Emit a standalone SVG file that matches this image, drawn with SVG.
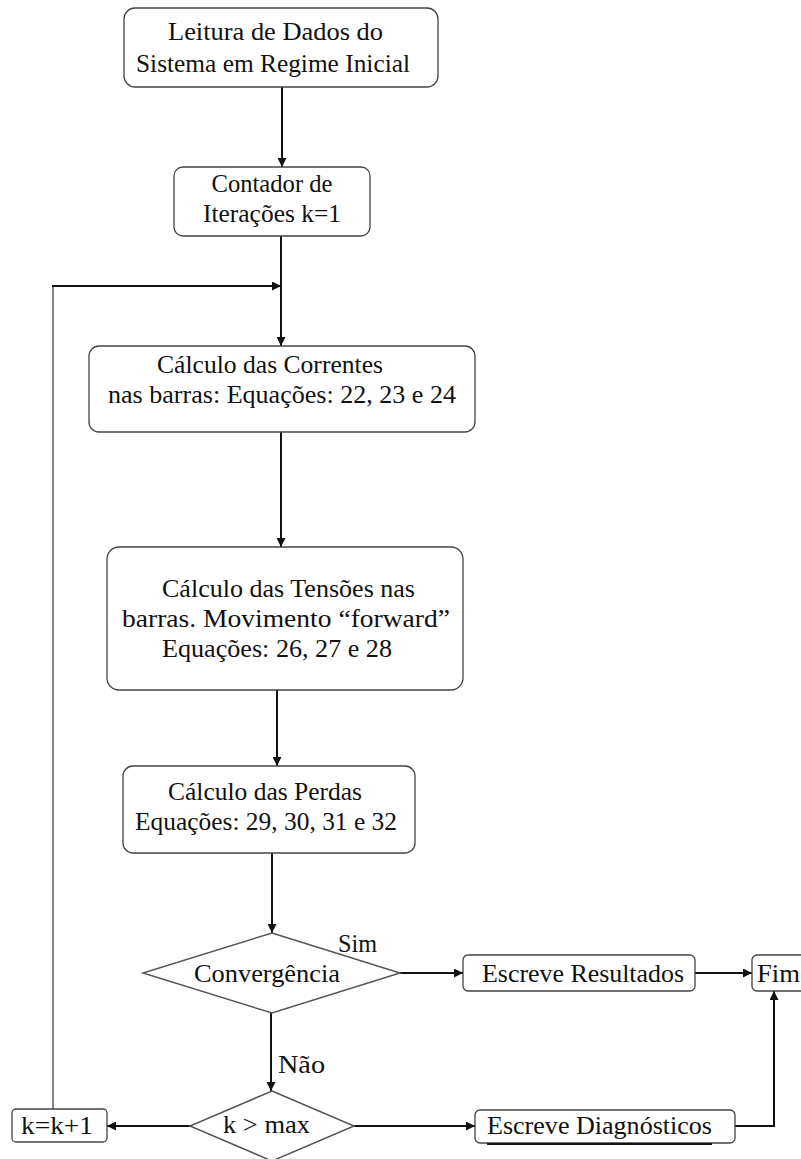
<svg xmlns="http://www.w3.org/2000/svg" width="801" height="1159" viewBox="0 0 801 1159">
  <style>
    .box { fill: #ffffff; stroke: #444444; stroke-width: 1.3; }
    .dia { fill: #ffffff; stroke: #555555; stroke-width: 1.5; }
    .t { font-family: "Liberation Serif", "Times New Roman", serif; font-size: 26px; fill: #111111; text-anchor: middle; }
    .tl { font-family: "Liberation Serif", "Times New Roman", serif; font-size: 26px; fill: #111111; }
    .ln { fill: none; stroke: #111111; stroke-width: 2; }
    .thin { fill: none; stroke: #333333; stroke-width: 1.2; }
  </style>
  <defs>
    <marker id="arr" viewBox="0 0 10 10" refX="10" refY="5" markerWidth="10" markerHeight="9" markerUnits="userSpaceOnUse" orient="auto">
      <path d="M0,0 L10,5 L0,10 z" fill="#111111"/>
    </marker>
  </defs>
  <rect width="801" height="1159" fill="#ffffff"/>

  <!-- connectors -->
  <g id="connectors">
    <line class="ln" x1="282" y1="87" x2="282" y2="167" marker-end="url(#arr)"/>
    <line class="ln" x1="281" y1="236" x2="281" y2="346" marker-end="url(#arr)"/>
    <polyline class="thin" points="53,1109 53,286"/>
    <line class="ln" x1="52" y1="286" x2="281" y2="286" marker-end="url(#arr)"/>
    <line class="ln" x1="281" y1="432" x2="281" y2="547" marker-end="url(#arr)"/>
    <line class="ln" x1="277" y1="690" x2="277" y2="766" marker-end="url(#arr)"/>
    <line class="ln" x1="272" y1="853" x2="272" y2="933" marker-end="url(#arr)"/>
    <line class="ln" x1="400" y1="973" x2="463" y2="973" marker-end="url(#arr)"/>
    <line class="ln" x1="695" y1="973" x2="752" y2="973" marker-end="url(#arr)"/>
    <line class="ln" x1="271" y1="1013" x2="271" y2="1091" marker-end="url(#arr)"/>
    <line class="ln" x1="190" y1="1126" x2="107" y2="1126" marker-end="url(#arr)"/>
    <line class="ln" x1="353" y1="1126" x2="475" y2="1126" marker-end="url(#arr)"/>
    <polyline class="ln" points="735,1126 774,1126 774,991" marker-end="url(#arr)"/>
  </g>

  <g id="leitura">
    <rect class="box" x="124" y="8" width="314" height="79" rx="11"/>
    <text class="t" x="275.5" y="40" textLength="215" lengthAdjust="spacingAndGlyphs">Leitura de Dados do</text>
    <text class="t" x="273" y="72" textLength="274" lengthAdjust="spacingAndGlyphs">Sistema em Regime Inicial</text>
  </g>

  <g id="contador">
    <rect class="box" x="174" y="167" width="196" height="69" rx="9"/>
    <text class="t" x="272" y="192" textLength="121" lengthAdjust="spacingAndGlyphs">Contador de</text>
    <text class="t" x="272" y="222" textLength="138" lengthAdjust="spacingAndGlyphs">Iterações k=1</text>
  </g>

  <g id="correntes">
    <rect class="box" x="89" y="346" width="386" height="86" rx="10"/>
    <text class="t" x="270" y="373" textLength="226" lengthAdjust="spacingAndGlyphs">Cálculo das Correntes</text>
    <text class="t" x="282" y="403" textLength="348" lengthAdjust="spacingAndGlyphs">nas barras: Equações: 22, 23 e 24</text>
  </g>

  <g id="tensoes">
    <rect class="box" x="107" y="547" width="356" height="143" rx="12"/>
    <text class="t" x="288.5" y="597" textLength="253" lengthAdjust="spacingAndGlyphs">Cálculo das Tensões nas</text>
    <text class="t" x="286" y="627" textLength="328" lengthAdjust="spacingAndGlyphs">barras. Movimento “forward”</text>
    <text class="t" x="277" y="657" textLength="230" lengthAdjust="spacingAndGlyphs">Equações: 26, 27 e 28</text>
  </g>

  <g id="perdas">
    <rect class="box" x="123" y="766" width="292" height="87" rx="10"/>
    <text class="t" x="265" y="800" textLength="194" lengthAdjust="spacingAndGlyphs">Cálculo das Perdas</text>
    <text class="t" x="266" y="830" textLength="262" lengthAdjust="spacingAndGlyphs">Equações: 29, 30, 31 e 32</text>
  </g>

  <g id="convergencia">
    <polygon class="dia" points="272,933 400,973 272,1013 143,973"/>
    <text class="t" x="267" y="982" textLength="146" lengthAdjust="spacingAndGlyphs">Convergência</text>
    <text class="tl" x="338" y="952" textLength="39" lengthAdjust="spacingAndGlyphs">Sim</text>
  </g>

  <g id="resultados">
    <rect class="box" x="463" y="955" width="232" height="36" rx="5"/>
    <text class="t" x="583" y="982" textLength="202" lengthAdjust="spacingAndGlyphs">Escreve Resultados</text>
  </g>

  <g id="fim">
    <rect class="box" x="752" y="955" width="70" height="36" rx="5"/>
    <text class="tl" x="757" y="982" textLength="43" lengthAdjust="spacingAndGlyphs">Fim</text>
  </g>

  <g id="kmax">
    <polygon class="dia" points="272,1091 354,1126 272,1161 190,1126"/>
    <text class="t" x="266.5" y="1133" textLength="87" lengthAdjust="spacingAndGlyphs">k &gt; max</text>
    <text class="tl" x="278" y="1073" textLength="47" lengthAdjust="spacingAndGlyphs">Não</text>
  </g>

  <g id="incremento">
    <rect class="box" x="12" y="1109" width="95" height="33" rx="4"/>
    <text class="t" x="57" y="1134" textLength="72" lengthAdjust="spacingAndGlyphs">k=k+1</text>
  </g>

  <g id="diagnosticos">
    <rect class="box" x="475" y="1110" width="260" height="33" rx="5"/>
    <text class="t" x="599.5" y="1134" textLength="225" lengthAdjust="spacingAndGlyphs">Escreve Diagnósticos</text>
    <line x1="487" y1="1144" x2="712" y2="1144" stroke="#111111" stroke-width="2"/>
  </g>
</svg>
